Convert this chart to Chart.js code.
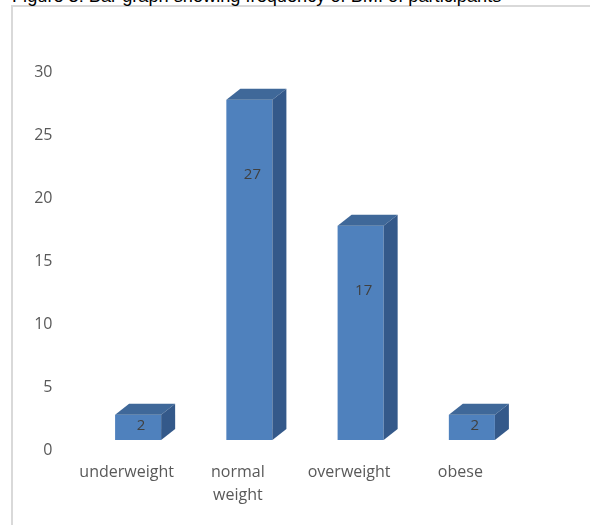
<!DOCTYPE html>
<html>
<head>
<meta charset="utf-8">
<script src="https://cdn.jsdelivr.net/npm/chart.js@4"></script>
<style>
  html, body { margin: 0; padding: 0; background: #ffffff; overflow: hidden; }
  #wrap { position: relative; width: 590px; height: 525px; overflow: hidden; }
  #frame { position: absolute; left: 11px; top: 5px; width: 900px; height: 900px;
           border: 2px solid #d9d9d9; box-sizing: border-box; }
  #title { position: absolute; left: 12px; top: -13px; font-family: "Liberation Sans", Arial, sans-serif;
           font-size: 18.2px; line-height: 18px; color: #000; white-space: nowrap; }
  #box { position: absolute; left: 0; top: 0; width: 590px; height: 525px; }
</style>
</head>
<body>
<div id="wrap">
  <div id="frame"></div>
  <div id="title">Figure 3: Bar graph showing frequency of BMI of participants</div>
  <div id="box"><canvas id="c"></canvas></div>
</div>
<script>
const categories = [["underweight"], ["normal", "weight"], ["overweight"], ["obese"]];
const frequencies = [2, 27, 17, 2];
const yTicks = [0, 5, 10, 15, 20, 25, 30];

const DX = 14, DY = 11;

const bar3d = {
  id: 'bar3d',
  afterDatasetsDraw(chart) {
    const ctx = chart.ctx;
    const meta = chart.getDatasetMeta(0);
    meta.data.forEach((el, i) => {
      const p = el.getProps(['x', 'y', 'base', 'width'], true);
      const l = p.x - p.width / 2, r = p.x + p.width / 2;
      const top = p.y, base = p.base;
      ctx.save();
      // top face
      ctx.beginPath();
      ctx.moveTo(l, top);
      ctx.lineTo(l + DX, top - DY);
      ctx.lineTo(r + DX, top - DY);
      ctx.lineTo(r, top);
      ctx.closePath();
      ctx.fillStyle = '#3f6899';
      ctx.fill();
      // side face
      ctx.beginPath();
      ctx.moveTo(r, top);
      ctx.lineTo(r + DX, top - DY);
      ctx.lineTo(r + DX, base - DY);
      ctx.lineTo(r, base);
      ctx.closePath();
      ctx.fillStyle = '#34598a';
      ctx.fill();
      // value label
      const h = base - top;
      const off = -0.000655 * h * h + 0.4423 * h + 0.35;
      ctx.fillStyle = '#404040';
      ctx.font = '15px "Open Sans"';
      ctx.textAlign = 'center';
      ctx.textBaseline = 'middle';
      ctx.fillText(String(frequencies[i]), p.x + 3, top + off);
      ctx.restore();
    });
  }
};

new Chart(document.getElementById('c'), {
  type: 'bar',
  data: {
    labels: categories,
    datasets: [{
      data: frequencies,
      backgroundColor: '#4f81bd',
      borderWidth: 0,
      barPercentage: 0.414,
      categoryPercentage: 1.0
    }]
  },
  options: {
    responsive: true,
    maintainAspectRatio: false,
    animation: false,
    devicePixelRatio: 1,
    layout: { padding: { top: 62, right: 62.5, left: 0, bottom: 0 } },
    plugins: { legend: { display: false }, tooltip: { enabled: false }, title: { display: false } },
    scales: {
      x: {
        grid: { display: false, drawTicks: false },
        border: { display: false },
        afterFit(s) { s.height = 85; },
        ticks: {
          color: '#595959',
          font: { family: '"Open Sans"', size: 16, lineHeight: 1.45 },
          padding: 21,
          labelOffset: -11.5,
          maxRotation: 0,
          autoSkip: false
        }
      },
      y: {
        min: 0,
        max: 30,
        grid: { display: false, drawTicks: false },
        border: { display: false },
        afterFit(s) { s.width = 82.5; },
        afterBuildTicks(s) { s.ticks = yTicks.map(v => ({ value: v })); },
        ticks: {
          color: '#595959',
          font: { family: '"Open Sans"', size: 16 },
          padding: 30,
          labelOffset: 10
        }
      }
    }
  },
  plugins: [bar3d]
});
</script>
</body>
</html>
